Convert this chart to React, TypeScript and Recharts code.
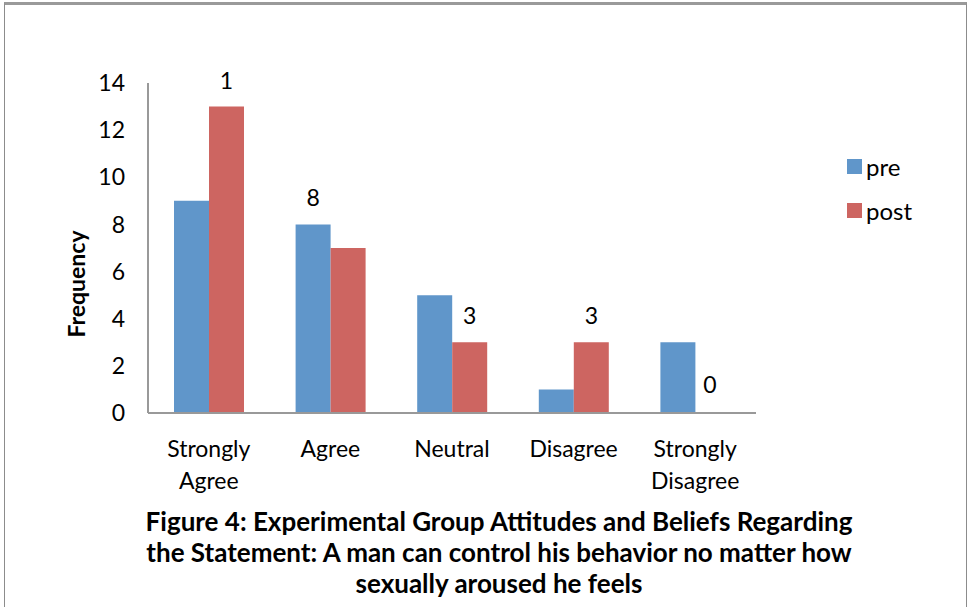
import { Bar, BarChart, LabelList, XAxis, YAxis } from 'recharts'

const categories = [
  'Strongly Agree',
  'Agree',
  'Neutral',
  'Disagree',
  'Strongly Disagree',
]
const preValues = [9, 8, 5, 1, 3]
const postValues = [13, 7, 3, 3, 0]
const preLabels = ['', '8', '', '', '']
const postLabels = ['1', '', '3', '3', '0']
const yTicks = [0, 2, 4, 6, 8, 10, 12, 14]

const titleLines = [
  'Figure 4: Experimental Group Attitudes and Beliefs Regarding',
  'the Statement: A man can control his behavior no matter how',
  'sexually aroused he feels',
]

const FONT = 'Lato, "Open Sans", sans-serif'
const BLUE = '#6096ca'
const RED = '#cd6561'
const TEXT_SIZE = 23

const data = categories.map((name, i) => ({
  name,
  pre: preValues[i],
  post: postValues[i],
  preLabel: preLabels[i],
  postLabel: postLabels[i],
}))

const CategoryTick = ({ x, y, payload }: any) => {
  const words = String(payload.value).split(' ')
  return (
    <text
      x={x}
      y={y}
      textAnchor="middle"
      fontFamily={FONT}
      fontSize={TEXT_SIZE}
      fill="#000"
    >
      {words.map((w, i) => (
        <tspan key={i} x={x} dy={i === 0 ? 36 : 32}>
          {w}
        </tspan>
      ))}
    </text>
  )
}

const labelText = (x: number, y: number, value: string) => (
  <text
    x={x}
    y={y}
    textAnchor="middle"
    fontFamily={FONT}
    fontSize={TEXT_SIZE}
    fill="#000"
  >
    {value}
  </text>
)

// pre labels; a zero-height post bar gets no rectangle, so its label is
// placed here next to the pre bar, on the baseline
const PreLabel = (props: any) => {
  const { x, y, width, height, index } = props
  return (
    <g>
      {preLabels[index] ? labelText(x + width / 2, y - 18, preLabels[index]) : null}
      {postValues[index] === 0 && postLabels[index]
        ? labelText(x + width * 1.5 - 3, y + height - 20, postLabels[index])
        : null}
    </g>
  )
}

const PostLabel = (props: any) => {
  const { x, y, width, value } = props
  if (!value) return null
  return labelText(x + width / 2, y - 18, value)
}

const FrequencyLabel = ({ viewBox }: any) => {
  const cx = viewBox.x - 12
  const cy = viewBox.y + viewBox.height / 2 + 36
  return (
    <text
      x={cx}
      y={cy}
      transform={`rotate(-90, ${cx}, ${cy})`}
      textAnchor="middle"
      dominantBaseline="central"
      fontFamily={FONT}
      fontSize={TEXT_SIZE}
      fontWeight={700}
      fill="#000"
    >
      Frequency
    </text>
  )
}

export default function App() {
  return (
    <div
      style={{
        position: 'absolute',
        left: 0,
        top: 0,
        width: 969,
        height: 607,
        background: '#fff',
        fontFamily: FONT,
      }}
    >
      <div
        style={{
          position: 'absolute',
          left: 4,
          top: 2,
          width: 961,
          height: 602,
          border: '1px solid #8c8c8c',
          borderTop: '3px solid #9a9a9a',
        }}
      />
      <BarChart
        width={969}
        height={607}
        data={data}
        margin={{ top: 83, right: 213, bottom: 104, left: 88 }}
        barCategoryGap={26}
        barGap={0}
      >
        <XAxis
          dataKey="name"
          height={90}
          axisLine={{ stroke: '#999', strokeWidth: 2 }}
          tickLine={false}
          tick={<CategoryTick />}
          interval={0}
        />
        <YAxis
          width={60}
          domain={[0, 14]}
          ticks={yTicks}
          axisLine={{ stroke: '#999', strokeWidth: 2 }}
          tickLine={false}
          tick={{ fontFamily: FONT, fontSize: TEXT_SIZE, fill: '#000' }}
          tickMargin={17}
          label={<FrequencyLabel />}
        />
        <Bar dataKey="pre" fill={BLUE} isAnimationActive={false}>
          <LabelList dataKey="preLabel" content={<PreLabel />} />
        </Bar>
        <Bar dataKey="post" fill={RED} isAnimationActive={false}>
          <LabelList dataKey="postLabel" content={<PostLabel />} />
        </Bar>
      </BarChart>

      {/* legend */}
      <div style={{ position: 'absolute', left: 847, top: 144 }}>
        {[
          { name: 'pre', color: BLUE },
          { name: 'post', color: RED },
        ].map((item) => (
          <div
            key={item.name}
            style={{
              display: 'flex',
              alignItems: 'center',
              height: 44,
              fontSize: 24,
              color: '#000',
            }}
          >
            <div
              style={{
                width: 15,
                height: 15,
                background: item.color,
                marginRight: 4,
              }}
            />
            {item.name}
          </div>
        ))}
      </div>

      {/* caption */}
      <div
        style={{
          position: 'absolute',
          left: 0,
          width: 998,
          top: 506,
          textAlign: 'center',
          fontWeight: 700,
          fontSize: 26,
          lineHeight: '31px',
          color: '#000',
        }}
      >
        {titleLines.map((line) => (
          <div key={line}>{line}</div>
        ))}
      </div>
    </div>
  )
}
